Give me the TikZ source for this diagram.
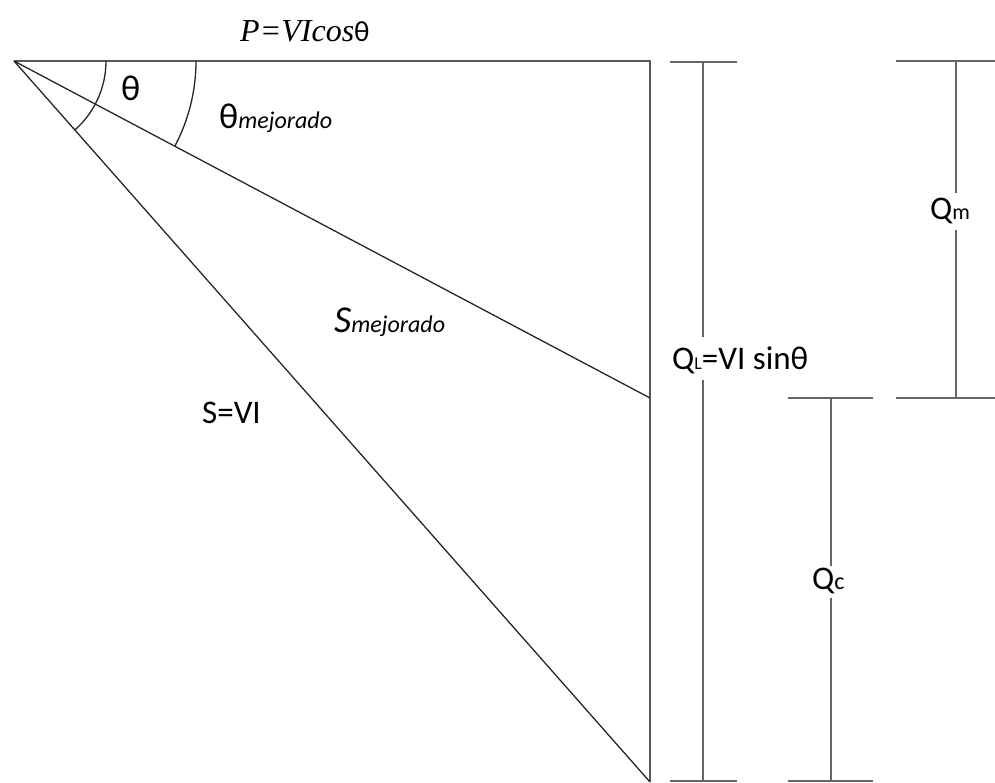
\documentclass[tikz,border=0pt]{standalone}
\usepackage{fontspec}
\setmainfont{Carlito}
\newfontfamily\pserif{Liberation Serif}
\begin{document}
\begin{tikzpicture}[x=1pt,y=-1pt,
  edge/.style={line width=1.8pt, draw=black!65},
  hypo/.style={line width=1.3pt, draw=black!85},
  dimline/.style={line width=1.8pt, draw=black!60},
  lbl/.style={inner sep=0pt, text=black, font=\fontsize{33}{36}\selectfont}]
\useasboundingbox (0,0) rectangle (995,783);
% triangle
\coordinate (O) at (14,61);
\coordinate (A) at (650,61);
\coordinate (B) at (650,782);
\coordinate (M) at (650,398);
\draw[edge] (O) -- (A) -- (B);
\draw[hypo] (O) -- (B);
\draw[hypo] (O) -- (M);
\draw[hypo] (O) ++(92,0) arc[start angle=0,end angle=48.6,radius=92];
\draw[hypo] (O) ++(182,0) arc[start angle=0,end angle=27.9,radius=182];
% Q_L dimension
\coordinate (qlTl) at (670,62); \coordinate (qlTr) at (737,62);
\coordinate (qlBl) at (670,781); \coordinate (qlBr) at (737,781);
\coordinate (qlT) at (703,62); \coordinate (qlB) at (703,781);
\coordinate (qlG1) at (703,337); \coordinate (qlG2) at (703,380);
\draw[dimline] (qlTl) -- (qlTr);
\draw[dimline] (qlBl) -- (qlBr);
\draw[dimline] (qlT) -- (qlG1);
\draw[dimline] (qlG2) -- (qlB);
% Q_m dimension
\coordinate (qmTl) at (896,61); \coordinate (qmTr) at (995,61);
\coordinate (qmBl) at (896,398); \coordinate (qmBr) at (995,398);
\coordinate (qmT) at (956,61); \coordinate (qmB) at (956,398);
\coordinate (qmG1) at (956,193); \coordinate (qmG2) at (956,230);
\draw[dimline] (qmTl) -- (qmTr);
\draw[dimline] (qmBl) -- (qmBr);
\draw[dimline] (qmT) -- (qmG1);
\draw[dimline] (qmG2) -- (qmB);
% Q_c dimension
\coordinate (qcTl) at (788,398); \coordinate (qcTr) at (873,398);
\coordinate (qcBl) at (788,781); \coordinate (qcBr) at (873,781);
\coordinate (qcT) at (831,398); \coordinate (qcB) at (831,781);
\coordinate (qcG1) at (831,566); \coordinate (qcG2) at (831,598);
\draw[dimline] (qcTl) -- (qcTr);
\draw[dimline] (qcBl) -- (qcBr);
\draw[dimline] (qcT) -- (qcG1);
\draw[dimline] (qcG2) -- (qcB);
% labels
\node[lbl, anchor=base west] (P) at (240,42)
  {{\pserif\itshape\fontsize{32}{34}\selectfont P=VIcos}{\fontsize{29}{30}\selectfont θ}};
\node[lbl, anchor=base west, font=\fontsize{36}{38}\selectfont] (th) at (121,101) {θ};
\node[lbl, anchor=base west] (thm) at (219,129)
  {{\fontsize{36}{38}\selectfont θ}{\itshape\fontsize{24}{26}\selectfont mejorado}};
\node[lbl, anchor=base west] (sm) at (334,333)
  {{\itshape\fontsize{38}{40}\selectfont S}{\itshape\fontsize{24}{26}\selectfont mejorado}};
\node[lbl, anchor=base west] (s) at (202,423) {S=VI};
\node[lbl, anchor=base west] (ql) at (672,369)
  {Q{\fontsize{18}{20}\selectfont L}=VI sinθ};
\node[lbl, anchor=base west] (qm) at (930,220)
  {Q{\fontsize{22}{24}\selectfont m}};
\node[lbl, anchor=base west] (qc) at (812,589)
  {Q{\fontsize{24}{26}\selectfont c}};
\end{tikzpicture}
\end{document}
